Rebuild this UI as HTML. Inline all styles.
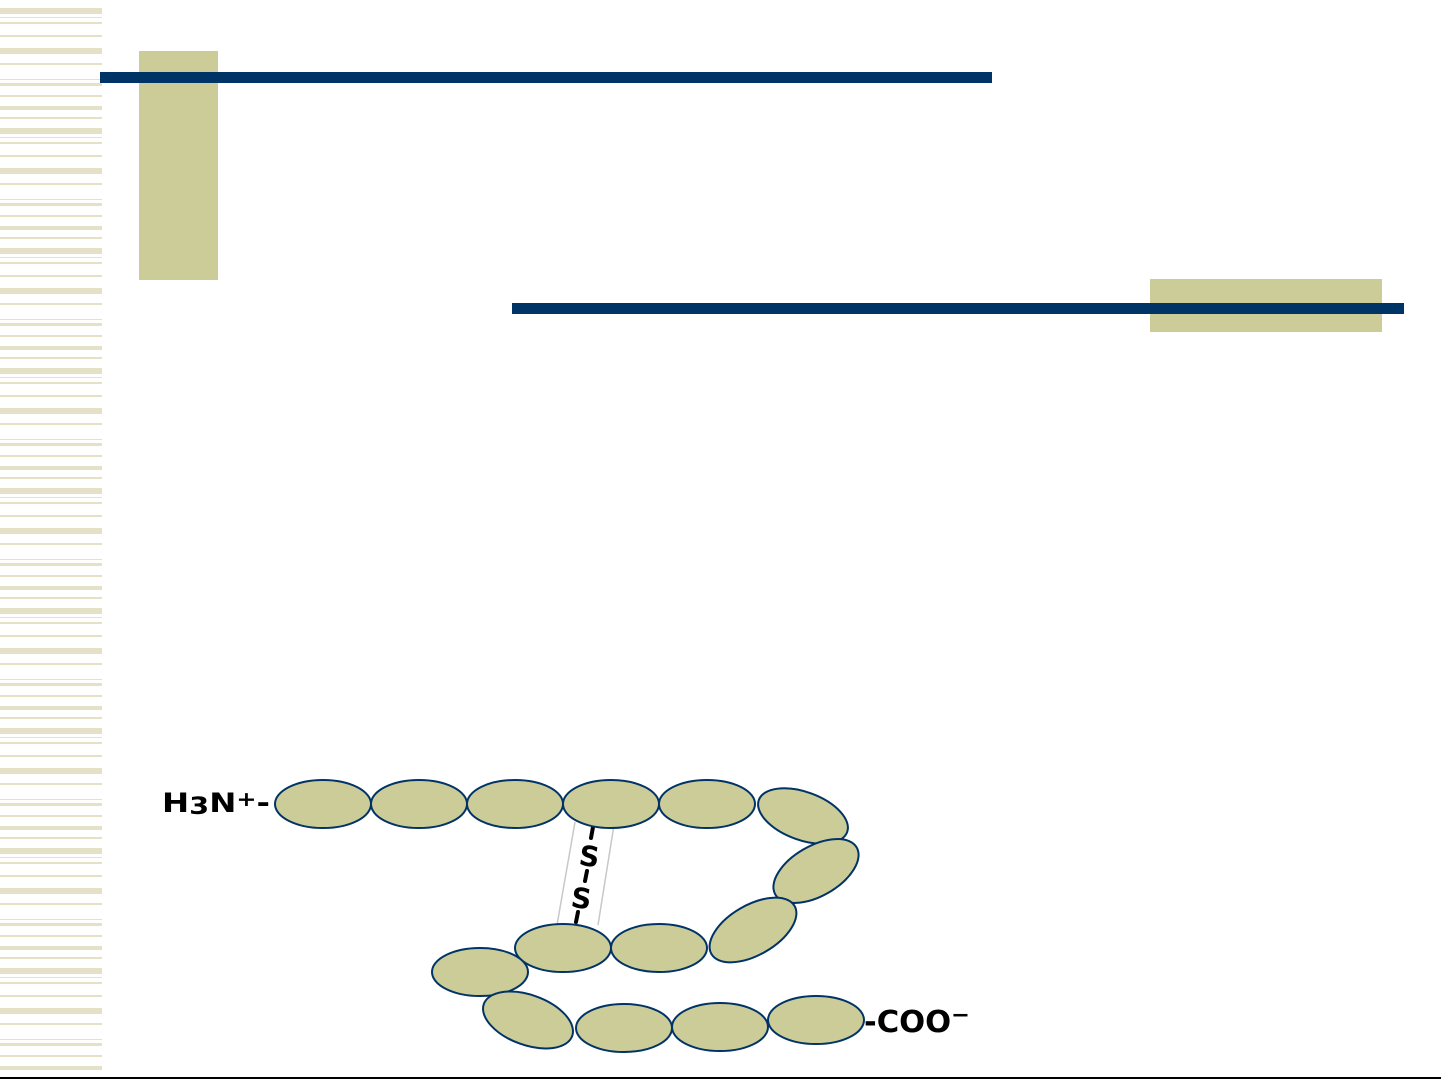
<!DOCTYPE html>
<html><head><meta charset="utf-8"><style>
html,body{margin:0;padding:0;background:#fff;width:1441px;height:1081px;overflow:hidden}
svg{display:block}
</style></head><body>
<svg width="1441" height="1081" viewBox="0 0 1441 1081" xmlns="http://www.w3.org/2000/svg">
<defs>
<pattern id="st" x="0" y="0" width="102" height="120" patternUnits="userSpaceOnUse">
<rect y="8" width="102" height="6" fill="#e4e1c6"/>
<rect y="17" width="102" height="1" fill="#e4e1c6"/>
<rect y="22" width="102" height="2" fill="#e4e1c6"/>
<rect y="35" width="102" height="2" fill="#e4e1c6"/>
<rect y="48" width="102" height="6" fill="#e4e1c6"/>
<rect y="63" width="102" height="2" fill="#e4e1c6"/>
<rect y="79" width="102" height="1" fill="#e4e1c6"/>
<rect y="83" width="102" height="3" fill="#e4e1c6"/>
<rect y="95" width="102" height="2" fill="#e4e1c6"/>
<rect y="106" width="102" height="4" fill="#e4e1c6"/>
<rect y="117" width="102" height="2" fill="#e4e1c6"/>
</pattern>
</defs>
<rect x="0" y="0" width="102" height="1075" fill="url(#st)"/>
<rect x="139" y="51" width="79" height="229" fill="#cccc99"/>
<rect x="100" y="72" width="892" height="11" fill="#003366"/>
<rect x="1150" y="279" width="232" height="53" fill="#cccc99"/>
<rect x="512" y="303" width="892" height="11" fill="#003366"/>
<line x1="0" y1="1078" x2="1441" y2="1078" stroke="#000" stroke-width="2"/>

<g fill="none" stroke="#c8c8c8" stroke-width="1.5">
<path d="M575 822 L557 925"/><path d="M614 825 L598 925"/>
</g>
<g stroke="#000" stroke-width="4" stroke-linecap="round">
<line x1="593" y1="827" x2="591" y2="838"/>
<line x1="587" y1="871" x2="585" y2="881"/>
<line x1="578" y1="912" x2="576" y2="922"/>
</g>
<g font-family="DejaVu Sans,sans-serif" font-weight="bold" font-size="28" fill="#000" text-anchor="middle">
<text transform="translate(588 866) rotate(8)">S</text>
<text transform="translate(580 908) rotate(8)">S</text>
</g>

<g fill="#cccc99" stroke="#003366" stroke-width="2">
<ellipse cx="323" cy="804" rx="48" ry="24"/>
<ellipse cx="419" cy="804" rx="48" ry="24"/>
<ellipse cx="515" cy="804" rx="48" ry="24"/>
<ellipse cx="611" cy="804" rx="48" ry="24"/>
<ellipse cx="707" cy="804" rx="48" ry="24"/>
<ellipse cx="803" cy="816" rx="47" ry="24" transform="rotate(20 803 816)"/>
<ellipse cx="816" cy="871" rx="47" ry="25" transform="rotate(-30 816 871)"/>
<ellipse cx="753" cy="930" rx="48" ry="25" transform="rotate(-30 753 930)"/>
<ellipse cx="563" cy="948" rx="48" ry="24"/>
<ellipse cx="659" cy="948" rx="48" ry="24"/>
<ellipse cx="480" cy="972" rx="48" ry="24"/>
<ellipse cx="528" cy="1020" rx="47" ry="25" transform="rotate(20 528 1020)"/>
<ellipse cx="624" cy="1028" rx="48" ry="24"/>
<ellipse cx="720" cy="1027" rx="48" ry="24"/>
<ellipse cx="816" cy="1020" rx="48" ry="24"/>
</g>
<text x="162" y="812" font-family="DejaVu Sans,sans-serif" font-weight="bold" font-size="27" fill="#000" textLength="108" lengthAdjust="spacingAndGlyphs">H<tspan font-size="24" dy="2">3</tspan><tspan dy="-2">N</tspan><tspan font-size="20" dy="-6">+</tspan><tspan dy="6">-</tspan></text>
<text x="864" y="1032" font-family="DejaVu Sans,sans-serif" font-weight="bold" font-size="30" fill="#000" textLength="106" lengthAdjust="spacingAndGlyphs">-COO<tspan font-size="22" dy="-10">−</tspan></text>
</svg>
</body></html>
